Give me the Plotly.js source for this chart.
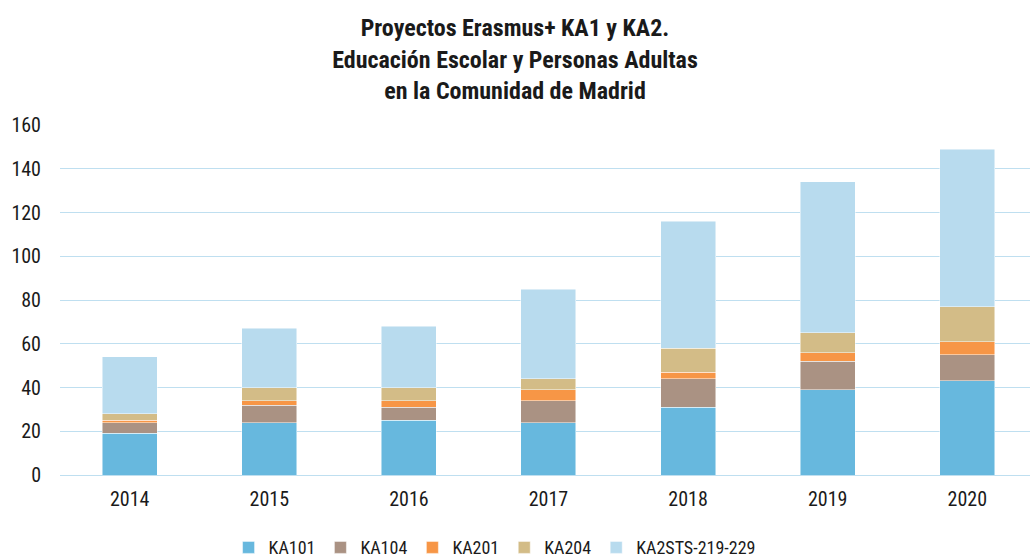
<!DOCTYPE html>
<html>
<head>
<meta charset="utf-8">
<script src="https://cdn.plot.ly/plotly-3.0.1.min.js"></script>
<style>html,body{margin:0;padding:0;background:#fff;overflow:hidden}</style>
</head>
<body>
<div id="chart" style="width:1030px;height:560px"></div>
<script>
const years = ["2014", "2015", "2016", "2017", "2018", "2019", "2020"];
const ka101 = [19, 24, 25, 24, 31, 39, 43];
const ka104 = [5, 8, 6, 10, 13, 13, 12];
const ka201 = [1, 2, 3, 5, 3, 4, 6];
const ka204 = [3, 6, 6, 5, 11, 9, 16];
const ka2sts = [26, 27, 28, 41, 58, 69, 72];
const seriesNames = ["KA101", "KA104", "KA201", "KA204", "KA2STS-219-229"];
const seriesColors = ["#67B8DE", "#AA9283", "#F79646", "#D3BC87", "#B8DBEE"];
const seriesValues = [ka101, ka104, ka201, ka204, ka2sts];

const FONT = "'Liberation Sans Narrow', 'Arial Narrow', 'Roboto Condensed', sans-serif";

const traces = seriesValues.map((vals, i) => ({
  type: "bar",
  name: seriesNames[i],
  x: years,
  y: vals,
  marker: { color: seriesColors[i], line: { color: "rgba(255,255,255,0.6)", width: 0.8 } },
  hoverinfo: "x+y+name"
}));

const layout = {
  width: 1030,
  height: 560,
  barmode: "stack",
  bargap: 0.606,
  paper_bgcolor: "#ffffff",
  plot_bgcolor: "#ffffff",
  margin: { l: 60, r: 0, t: 125, b: 85 },
  font: { family: FONT, size: 20, color: "#1a1a1a" },
  title: {
    text: "<b>Proyectos Erasmus+ KA1 y KA2.<br>Educación Escolar y Personas Adultas<br>en la Comunidad de Madrid</b>",
    x: 0.5,
    xanchor: "center",
    yref: "container",
    y: 0.935,
    yanchor: "middle",
    font: { family: FONT, size: 24, color: "#1a1a1a" }
  },
  xaxis: {
    type: "category",
    range: [-0.499, 6.449],
    showgrid: false,
    showline: false,
    zeroline: false,
    ticks: "",
    ticklabelstandoff: 10,
    tickfont: { family: FONT, size: 20, color: "#1a1a1a" }
  },
  yaxis: {
    range: [0, 160],
    dtick: 20,
    showgrid: true,
    gridcolor: "#BFDFF0",
    gridwidth: 1.4,
    zeroline: true,
    zerolinecolor: "#BFDFF0",
    zerolinewidth: 1.4,
    showline: false,
    ticks: "",
    ticklabelstandoff: 18,
    tickfont: { family: FONT, size: 20, color: "#1a1a1a" }
  },
  legend: {
    orientation: "h",
    x: 0.448,
    xanchor: "center",
    yref: "container",
    y: 0.022,
    yanchor: "middle",
    font: { family: FONT, size: 18, color: "#1a1a1a" },
    itemwidth: 30,
    traceorder: "normal"
  },
  showlegend: true
};

Plotly.newPlot("chart", traces, layout, { displayModeBar: false, responsive: false });
</script>
</body>
</html>
